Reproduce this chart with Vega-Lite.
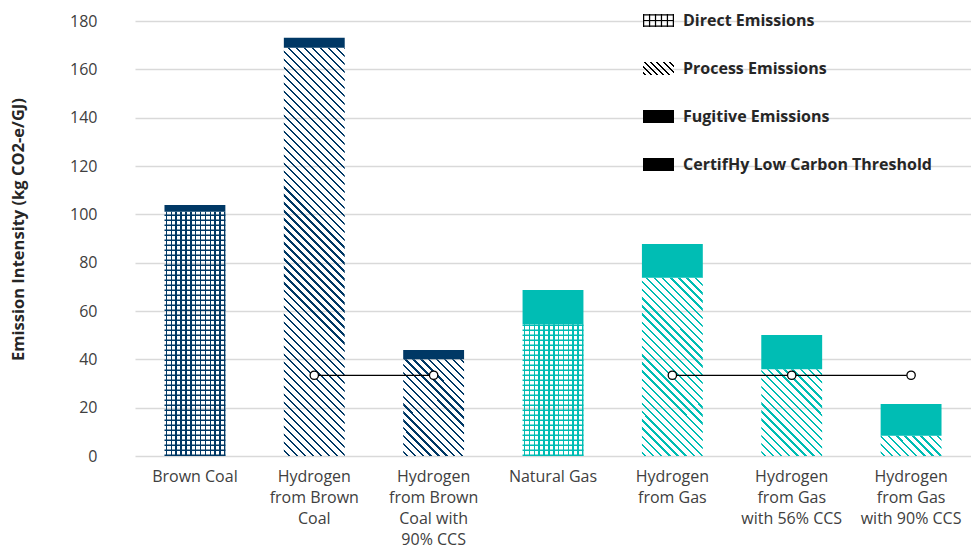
{
"$schema":"https://vega.github.io/schema/vega-lite/v6.json",
"width":836,"height":435,
"autosize":{"type":"none"},
"padding":{"left":135,"top":21,"right":0,"bottom":93},
"background":"white",
"config":{"view":{"stroke":null},"font":"Open Sans",
"axis":{"labelFont":"Open Sans","titleFont":"Open Sans","labelColor":"#404040","labelFontSize":16,"domain":false,"ticks":false},
"axisY":{"grid":true,"gridColor":"#d9d9d9","gridWidth":1.5,"labelPadding":38,"titleFontSize":16.5,"titleFontWeight":"bold","titleColor":"#262626","titleX":-117,"titleY":208,"titleAngle":-90,"titleBaseline":"middle","titleAlign":"center"},
"axisX":{"grid":false,"labelPadding":12,"labelLineHeight":21,"labelAngle":0}},
"datasets":{
"emissions":[
{"category":"Brown Coal","component":"Direct Emissions","fuel":"coal","order":1,"value":101.1},
{"category":"Brown Coal","component":"Fugitive Emissions","fuel":"coal","order":2,"value":2.8},
{"category":"Hydrogen from Brown Coal","component":"Process Emissions","fuel":"coal","order":1,"value":168.9},
{"category":"Hydrogen from Brown Coal","component":"Fugitive Emissions","fuel":"coal","order":2,"value":4.2},
{"category":"Hydrogen from Brown Coal with 90% CCS","component":"Process Emissions","fuel":"coal","order":1,"value":40.0},
{"category":"Hydrogen from Brown Coal with 90% CCS","component":"Fugitive Emissions","fuel":"coal","order":2,"value":3.9},
{"category":"Natural Gas","component":"Direct Emissions","fuel":"gas","order":1,"value":54.5},
{"category":"Natural Gas","component":"Fugitive Emissions","fuel":"gas","order":2,"value":14.2},
{"category":"Hydrogen from Gas","component":"Process Emissions","fuel":"gas","order":1,"value":73.8},
{"category":"Hydrogen from Gas","component":"Fugitive Emissions","fuel":"gas","order":2,"value":13.9},
{"category":"Hydrogen from Gas with 56% CCS","component":"Process Emissions","fuel":"gas","order":1,"value":35.9},
{"category":"Hydrogen from Gas with 56% CCS","component":"Fugitive Emissions","fuel":"gas","order":2,"value":14.2},
{"category":"Hydrogen from Gas with 90% CCS","component":"Process Emissions","fuel":"gas","order":1,"value":8.4},
{"category":"Hydrogen from Gas with 90% CCS","component":"Fugitive Emissions","fuel":"gas","order":2,"value":13.1}
],
"threshold":[
{"category":"Hydrogen from Brown Coal","grp":"coal","threshold":33.4},
{"category":"Hydrogen from Brown Coal with 90% CCS","grp":"coal","threshold":33.4},
{"category":"Hydrogen from Gas","grp":"gas","threshold":33.4},
{"category":"Hydrogen from Gas with 56% CCS","grp":"gas","threshold":33.4},
{"category":"Hydrogen from Gas with 90% CCS","grp":"gas","threshold":33.4}
]},
"encoding":{"x":{"field":"category","type":"nominal","title":null,
"scale":{"domain":["Brown Coal","Hydrogen from Brown Coal","Hydrogen from Brown Coal with 90% CCS","Natural Gas","Hydrogen from Gas","Hydrogen from Gas with 56% CCS","Hydrogen from Gas with 90% CCS"],"paddingInner":0.49,"paddingOuter":0.247},
"axis":{"labelExpr":"datum.label === 'Hydrogen from Brown Coal' ? ['Hydrogen','from Brown','Coal'] : datum.label === 'Hydrogen from Brown Coal with 90% CCS' ? ['Hydrogen','from Brown','Coal with','90% CCS'] : datum.label === 'Hydrogen from Gas' ? ['Hydrogen','from Gas'] : datum.label === 'Hydrogen from Gas with 56% CCS' ? ['Hydrogen','from Gas','with 56% CCS'] : datum.label === 'Hydrogen from Gas with 90% CCS' ? ['Hydrogen','from Gas','with 90% CCS'] : datum.label"}}},
"layer":[
{"data":{"name":"emissions"},
"transform":[{"stack":"value","groupby":["category"],"sort":[{"field":"order"}],"as":["v0","v1"]}],
"layer":[
{"transform":[{"filter":"datum.component === 'Direct Emissions'"}],
"mark":{"type":"bar"},
"encoding":{
"y":{"field":"v1","type":"quantitative","title":"Emission Intensity (kg CO2-e/GJ)","scale":{"domain":[0,180],"nice":false},"axis":{"values":[0,20,40,60,80,100,120,140,160,180]}},
"y2":{"field":"v0"},
"color":{"condition":{"test":"datum.fuel === 'coal'","value":{"gradient":"linear","x1":0,"y1":0,"x2":1,"y2":0,"stops":[
{"offset":0.02,"color":"rgba(0,0,0,0)"},{"offset":0.02,"color":"#003865"},{"offset":0.045,"color":"#003865"},{"offset":0.045,"color":"rgba(0,0,0,0)"},
{"offset":0.1,"color":"rgba(0,0,0,0)"},{"offset":0.1,"color":"#003865"},{"offset":0.125,"color":"#003865"},{"offset":0.125,"color":"rgba(0,0,0,0)"},
{"offset":0.18,"color":"rgba(0,0,0,0)"},{"offset":0.18,"color":"#003865"},{"offset":0.205,"color":"#003865"},{"offset":0.205,"color":"rgba(0,0,0,0)"},
{"offset":0.26,"color":"rgba(0,0,0,0)"},{"offset":0.26,"color":"#003865"},{"offset":0.285,"color":"#003865"},{"offset":0.285,"color":"rgba(0,0,0,0)"},
{"offset":0.34,"color":"rgba(0,0,0,0)"},{"offset":0.34,"color":"#003865"},{"offset":0.365,"color":"#003865"},{"offset":0.365,"color":"rgba(0,0,0,0)"},
{"offset":0.42,"color":"rgba(0,0,0,0)"},{"offset":0.42,"color":"#003865"},{"offset":0.445,"color":"#003865"},{"offset":0.445,"color":"rgba(0,0,0,0)"},
{"offset":0.5,"color":"rgba(0,0,0,0)"},{"offset":0.5,"color":"#003865"},{"offset":0.525,"color":"#003865"},{"offset":0.525,"color":"rgba(0,0,0,0)"},
{"offset":0.58,"color":"rgba(0,0,0,0)"},{"offset":0.58,"color":"#003865"},{"offset":0.605,"color":"#003865"},{"offset":0.605,"color":"rgba(0,0,0,0)"},
{"offset":0.66,"color":"rgba(0,0,0,0)"},{"offset":0.66,"color":"#003865"},{"offset":0.685,"color":"#003865"},{"offset":0.685,"color":"rgba(0,0,0,0)"},
{"offset":0.74,"color":"rgba(0,0,0,0)"},{"offset":0.74,"color":"#003865"},{"offset":0.765,"color":"#003865"},{"offset":0.765,"color":"rgba(0,0,0,0)"},
{"offset":0.82,"color":"rgba(0,0,0,0)"},{"offset":0.82,"color":"#003865"},{"offset":0.845,"color":"#003865"},{"offset":0.845,"color":"rgba(0,0,0,0)"},
{"offset":0.9,"color":"rgba(0,0,0,0)"},{"offset":0.9,"color":"#003865"},{"offset":0.925,"color":"#003865"},{"offset":0.925,"color":"rgba(0,0,0,0)"},
{"offset":0.98,"color":"rgba(0,0,0,0)"},{"offset":0.98,"color":"#003865"},{"offset":1,"color":"#003865"}]}},
"value":{"gradient":"linear","x1":0,"y1":0,"x2":1,"y2":0,"stops":[
{"offset":0.02,"color":"rgba(0,0,0,0)"},{"offset":0.02,"color":"#00bdb4"},{"offset":0.045,"color":"#00bdb4"},{"offset":0.045,"color":"rgba(0,0,0,0)"},
{"offset":0.1,"color":"rgba(0,0,0,0)"},{"offset":0.1,"color":"#00bdb4"},{"offset":0.125,"color":"#00bdb4"},{"offset":0.125,"color":"rgba(0,0,0,0)"},
{"offset":0.18,"color":"rgba(0,0,0,0)"},{"offset":0.18,"color":"#00bdb4"},{"offset":0.205,"color":"#00bdb4"},{"offset":0.205,"color":"rgba(0,0,0,0)"},
{"offset":0.26,"color":"rgba(0,0,0,0)"},{"offset":0.26,"color":"#00bdb4"},{"offset":0.285,"color":"#00bdb4"},{"offset":0.285,"color":"rgba(0,0,0,0)"},
{"offset":0.34,"color":"rgba(0,0,0,0)"},{"offset":0.34,"color":"#00bdb4"},{"offset":0.365,"color":"#00bdb4"},{"offset":0.365,"color":"rgba(0,0,0,0)"},
{"offset":0.42,"color":"rgba(0,0,0,0)"},{"offset":0.42,"color":"#00bdb4"},{"offset":0.445,"color":"#00bdb4"},{"offset":0.445,"color":"rgba(0,0,0,0)"},
{"offset":0.5,"color":"rgba(0,0,0,0)"},{"offset":0.5,"color":"#00bdb4"},{"offset":0.525,"color":"#00bdb4"},{"offset":0.525,"color":"rgba(0,0,0,0)"},
{"offset":0.58,"color":"rgba(0,0,0,0)"},{"offset":0.58,"color":"#00bdb4"},{"offset":0.605,"color":"#00bdb4"},{"offset":0.605,"color":"rgba(0,0,0,0)"},
{"offset":0.66,"color":"rgba(0,0,0,0)"},{"offset":0.66,"color":"#00bdb4"},{"offset":0.685,"color":"#00bdb4"},{"offset":0.685,"color":"rgba(0,0,0,0)"},
{"offset":0.74,"color":"rgba(0,0,0,0)"},{"offset":0.74,"color":"#00bdb4"},{"offset":0.765,"color":"#00bdb4"},{"offset":0.765,"color":"rgba(0,0,0,0)"},
{"offset":0.82,"color":"rgba(0,0,0,0)"},{"offset":0.82,"color":"#00bdb4"},{"offset":0.845,"color":"#00bdb4"},{"offset":0.845,"color":"rgba(0,0,0,0)"},
{"offset":0.9,"color":"rgba(0,0,0,0)"},{"offset":0.9,"color":"#00bdb4"},{"offset":0.925,"color":"#00bdb4"},{"offset":0.925,"color":"rgba(0,0,0,0)"},
{"offset":0.98,"color":"rgba(0,0,0,0)"},{"offset":0.98,"color":"#00bdb4"},{"offset":1,"color":"#00bdb4"}]}}}},
{"transform":[{"filter":"datum.component === 'Direct Emissions'"}],
"mark":{"type":"rule","strokeWidth":60.9,"strokeDash":[1.6,3.4]},
"encoding":{
"y":{"field":"v0","type":"quantitative","title":"Emission Intensity (kg CO2-e/GJ)","scale":{"domain":[0,180],"nice":false}},
"y2":{"field":"v1"},
"color":{"field":"fuel","type":"nominal","scale":{"domain":["coal","gas"],"range":["#003865","#00bdb4"]},"legend":null}}},
{"transform":[{"filter":"datum.component === 'Process Emissions'"}],
"mark":{"type":"bar"},
"encoding":{
"y":{"field":"v1","type":"quantitative","title":"Emission Intensity (kg CO2-e/GJ)","scale":{"domain":[0,180],"nice":false}},
"y2":{"field":"v0"},
"color":{"condition":[
{"test":"datum.category === 'Hydrogen from Brown Coal'","value":{"gradient":"linear","x1":0,"y1":1,"x2":0.1676,"y2":-0.1241,"stops":[
{"offset":0.01,"color":"rgba(0,0,0,0)"},{"offset":0.01,"color":"#003865"},{"offset":0.015,"color":"#003865"},{"offset":0.015,"color":"rgba(0,0,0,0)"},
{"offset":0.027,"color":"rgba(0,0,0,0)"},{"offset":0.027,"color":"#003865"},{"offset":0.032,"color":"#003865"},{"offset":0.032,"color":"rgba(0,0,0,0)"},
{"offset":0.044,"color":"rgba(0,0,0,0)"},{"offset":0.044,"color":"#003865"},{"offset":0.049,"color":"#003865"},{"offset":0.049,"color":"rgba(0,0,0,0)"},
{"offset":0.061,"color":"rgba(0,0,0,0)"},{"offset":0.061,"color":"#003865"},{"offset":0.066,"color":"#003865"},{"offset":0.066,"color":"rgba(0,0,0,0)"},
{"offset":0.078,"color":"rgba(0,0,0,0)"},{"offset":0.078,"color":"#003865"},{"offset":0.083,"color":"#003865"},{"offset":0.083,"color":"rgba(0,0,0,0)"},
{"offset":0.095,"color":"rgba(0,0,0,0)"},{"offset":0.095,"color":"#003865"},{"offset":0.1,"color":"#003865"},{"offset":0.1,"color":"rgba(0,0,0,0)"},
{"offset":0.112,"color":"rgba(0,0,0,0)"},{"offset":0.112,"color":"#003865"},{"offset":0.117,"color":"#003865"},{"offset":0.117,"color":"rgba(0,0,0,0)"},
{"offset":0.129,"color":"rgba(0,0,0,0)"},{"offset":0.129,"color":"#003865"},{"offset":0.134,"color":"#003865"},{"offset":0.134,"color":"rgba(0,0,0,0)"},
{"offset":0.146,"color":"rgba(0,0,0,0)"},{"offset":0.146,"color":"#003865"},{"offset":0.151,"color":"#003865"},{"offset":0.151,"color":"rgba(0,0,0,0)"},
{"offset":0.163,"color":"rgba(0,0,0,0)"},{"offset":0.163,"color":"#003865"},{"offset":0.168,"color":"#003865"},{"offset":0.168,"color":"rgba(0,0,0,0)"},
{"offset":0.18,"color":"rgba(0,0,0,0)"},{"offset":0.18,"color":"#003865"},{"offset":0.185,"color":"#003865"},{"offset":0.185,"color":"rgba(0,0,0,0)"},
{"offset":0.197,"color":"rgba(0,0,0,0)"},{"offset":0.197,"color":"#003865"},{"offset":0.202,"color":"#003865"},{"offset":0.202,"color":"rgba(0,0,0,0)"},
{"offset":0.214,"color":"rgba(0,0,0,0)"},{"offset":0.214,"color":"#003865"},{"offset":0.219,"color":"#003865"},{"offset":0.219,"color":"rgba(0,0,0,0)"},
{"offset":0.231,"color":"rgba(0,0,0,0)"},{"offset":0.231,"color":"#003865"},{"offset":0.236,"color":"#003865"},{"offset":0.236,"color":"rgba(0,0,0,0)"},
{"offset":0.248,"color":"rgba(0,0,0,0)"},{"offset":0.248,"color":"#003865"},{"offset":0.253,"color":"#003865"},{"offset":0.253,"color":"rgba(0,0,0,0)"},
{"offset":0.265,"color":"rgba(0,0,0,0)"},{"offset":0.265,"color":"#003865"},{"offset":0.27,"color":"#003865"},{"offset":0.27,"color":"rgba(0,0,0,0)"},
{"offset":0.282,"color":"rgba(0,0,0,0)"},{"offset":0.282,"color":"#003865"},{"offset":0.287,"color":"#003865"},{"offset":0.287,"color":"rgba(0,0,0,0)"},
{"offset":0.299,"color":"rgba(0,0,0,0)"},{"offset":0.299,"color":"#003865"},{"offset":0.304,"color":"#003865"},{"offset":0.304,"color":"rgba(0,0,0,0)"},
{"offset":0.316,"color":"rgba(0,0,0,0)"},{"offset":0.316,"color":"#003865"},{"offset":0.321,"color":"#003865"},{"offset":0.321,"color":"rgba(0,0,0,0)"},
{"offset":0.333,"color":"rgba(0,0,0,0)"},{"offset":0.333,"color":"#003865"},{"offset":0.338,"color":"#003865"},{"offset":0.338,"color":"rgba(0,0,0,0)"},
{"offset":0.35,"color":"rgba(0,0,0,0)"},{"offset":0.35,"color":"#003865"},{"offset":0.355,"color":"#003865"},{"offset":0.355,"color":"rgba(0,0,0,0)"},
{"offset":0.367,"color":"rgba(0,0,0,0)"},{"offset":0.367,"color":"#003865"},{"offset":0.372,"color":"#003865"},{"offset":0.372,"color":"rgba(0,0,0,0)"},
{"offset":0.384,"color":"rgba(0,0,0,0)"},{"offset":0.384,"color":"#003865"},{"offset":0.389,"color":"#003865"},{"offset":0.389,"color":"rgba(0,0,0,0)"},
{"offset":0.401,"color":"rgba(0,0,0,0)"},{"offset":0.401,"color":"#003865"},{"offset":0.406,"color":"#003865"},{"offset":0.406,"color":"rgba(0,0,0,0)"},
{"offset":0.418,"color":"rgba(0,0,0,0)"},{"offset":0.418,"color":"#003865"},{"offset":0.423,"color":"#003865"},{"offset":0.423,"color":"rgba(0,0,0,0)"},
{"offset":0.435,"color":"rgba(0,0,0,0)"},{"offset":0.435,"color":"#003865"},{"offset":0.44,"color":"#003865"},{"offset":0.44,"color":"rgba(0,0,0,0)"},
{"offset":0.452,"color":"rgba(0,0,0,0)"},{"offset":0.452,"color":"#003865"},{"offset":0.457,"color":"#003865"},{"offset":0.457,"color":"rgba(0,0,0,0)"},
{"offset":0.469,"color":"rgba(0,0,0,0)"},{"offset":0.469,"color":"#003865"},{"offset":0.474,"color":"#003865"},{"offset":0.474,"color":"rgba(0,0,0,0)"},
{"offset":0.486,"color":"rgba(0,0,0,0)"},{"offset":0.486,"color":"#003865"},{"offset":0.491,"color":"#003865"},{"offset":0.491,"color":"rgba(0,0,0,0)"},
{"offset":0.503,"color":"rgba(0,0,0,0)"},{"offset":0.503,"color":"#003865"},{"offset":0.508,"color":"#003865"},{"offset":0.508,"color":"rgba(0,0,0,0)"},
{"offset":0.52,"color":"rgba(0,0,0,0)"},{"offset":0.52,"color":"#003865"},{"offset":0.525,"color":"#003865"},{"offset":0.525,"color":"rgba(0,0,0,0)"},
{"offset":0.537,"color":"rgba(0,0,0,0)"},{"offset":0.537,"color":"#003865"},{"offset":0.542,"color":"#003865"},{"offset":0.542,"color":"rgba(0,0,0,0)"},
{"offset":0.554,"color":"rgba(0,0,0,0)"},{"offset":0.554,"color":"#003865"},{"offset":0.559,"color":"#003865"},{"offset":0.559,"color":"rgba(0,0,0,0)"},
{"offset":0.571,"color":"rgba(0,0,0,0)"},{"offset":0.571,"color":"#003865"},{"offset":0.576,"color":"#003865"},{"offset":0.576,"color":"rgba(0,0,0,0)"},
{"offset":0.588,"color":"rgba(0,0,0,0)"},{"offset":0.588,"color":"#003865"},{"offset":0.593,"color":"#003865"},{"offset":0.593,"color":"rgba(0,0,0,0)"},
{"offset":0.605,"color":"rgba(0,0,0,0)"},{"offset":0.605,"color":"#003865"},{"offset":0.61,"color":"#003865"},{"offset":0.61,"color":"rgba(0,0,0,0)"},
{"offset":0.622,"color":"rgba(0,0,0,0)"},{"offset":0.622,"color":"#003865"},{"offset":0.627,"color":"#003865"},{"offset":0.627,"color":"rgba(0,0,0,0)"},
{"offset":0.639,"color":"rgba(0,0,0,0)"},{"offset":0.639,"color":"#003865"},{"offset":0.644,"color":"#003865"},{"offset":0.644,"color":"rgba(0,0,0,0)"},
{"offset":0.656,"color":"rgba(0,0,0,0)"},{"offset":0.656,"color":"#003865"},{"offset":0.661,"color":"#003865"},{"offset":0.661,"color":"rgba(0,0,0,0)"},
{"offset":0.673,"color":"rgba(0,0,0,0)"},{"offset":0.673,"color":"#003865"},{"offset":0.678,"color":"#003865"},{"offset":0.678,"color":"rgba(0,0,0,0)"},
{"offset":0.69,"color":"rgba(0,0,0,0)"},{"offset":0.69,"color":"#003865"},{"offset":0.695,"color":"#003865"},{"offset":0.695,"color":"rgba(0,0,0,0)"},
{"offset":0.707,"color":"rgba(0,0,0,0)"},{"offset":0.707,"color":"#003865"},{"offset":0.712,"color":"#003865"},{"offset":0.712,"color":"rgba(0,0,0,0)"},
{"offset":0.724,"color":"rgba(0,0,0,0)"},{"offset":0.724,"color":"#003865"},{"offset":0.729,"color":"#003865"},{"offset":0.729,"color":"rgba(0,0,0,0)"},
{"offset":0.741,"color":"rgba(0,0,0,0)"},{"offset":0.741,"color":"#003865"},{"offset":0.746,"color":"#003865"},{"offset":0.746,"color":"rgba(0,0,0,0)"},
{"offset":0.758,"color":"rgba(0,0,0,0)"},{"offset":0.758,"color":"#003865"},{"offset":0.763,"color":"#003865"},{"offset":0.763,"color":"rgba(0,0,0,0)"},
{"offset":0.775,"color":"rgba(0,0,0,0)"},{"offset":0.775,"color":"#003865"},{"offset":0.78,"color":"#003865"},{"offset":0.78,"color":"rgba(0,0,0,0)"},
{"offset":0.792,"color":"rgba(0,0,0,0)"},{"offset":0.792,"color":"#003865"},{"offset":0.797,"color":"#003865"},{"offset":0.797,"color":"rgba(0,0,0,0)"},
{"offset":0.809,"color":"rgba(0,0,0,0)"},{"offset":0.809,"color":"#003865"},{"offset":0.814,"color":"#003865"},{"offset":0.814,"color":"rgba(0,0,0,0)"},
{"offset":0.826,"color":"rgba(0,0,0,0)"},{"offset":0.826,"color":"#003865"},{"offset":0.831,"color":"#003865"},{"offset":0.831,"color":"rgba(0,0,0,0)"},
{"offset":0.843,"color":"rgba(0,0,0,0)"},{"offset":0.843,"color":"#003865"},{"offset":0.848,"color":"#003865"},{"offset":0.848,"color":"rgba(0,0,0,0)"},
{"offset":0.86,"color":"rgba(0,0,0,0)"},{"offset":0.86,"color":"#003865"},{"offset":0.865,"color":"#003865"},{"offset":0.865,"color":"rgba(0,0,0,0)"},
{"offset":0.877,"color":"rgba(0,0,0,0)"},{"offset":0.877,"color":"#003865"},{"offset":0.882,"color":"#003865"},{"offset":0.882,"color":"rgba(0,0,0,0)"},
{"offset":0.894,"color":"rgba(0,0,0,0)"},{"offset":0.894,"color":"#003865"},{"offset":0.899,"color":"#003865"},{"offset":0.899,"color":"rgba(0,0,0,0)"},
{"offset":0.911,"color":"rgba(0,0,0,0)"},{"offset":0.911,"color":"#003865"},{"offset":0.916,"color":"#003865"},{"offset":0.916,"color":"rgba(0,0,0,0)"},
{"offset":0.928,"color":"rgba(0,0,0,0)"},{"offset":0.928,"color":"#003865"},{"offset":0.933,"color":"#003865"},{"offset":0.933,"color":"rgba(0,0,0,0)"},
{"offset":0.945,"color":"rgba(0,0,0,0)"},{"offset":0.945,"color":"#003865"},{"offset":0.95,"color":"#003865"},{"offset":0.95,"color":"rgba(0,0,0,0)"},
{"offset":0.962,"color":"rgba(0,0,0,0)"},{"offset":0.962,"color":"#003865"},{"offset":0.967,"color":"#003865"},{"offset":0.967,"color":"rgba(0,0,0,0)"},
{"offset":0.979,"color":"rgba(0,0,0,0)"},{"offset":0.979,"color":"#003865"},{"offset":0.984,"color":"#003865"},{"offset":0.984,"color":"rgba(0,0,0,0)"},
{"offset":0.996,"color":"rgba(0,0,0,0)"},{"offset":0.996,"color":"#003865"},{"offset":1,"color":"#003865"}]}},
{"test":"datum.category === 'Hydrogen from Brown Coal with 90% CCS'","value":{"gradient":"linear","x1":0,"y1":1,"x2":0.7361,"y2":-0.1665,"stops":[
{"offset":0.02,"color":"rgba(0,0,0,0)"},{"offset":0.02,"color":"#003865"},{"offset":0.035,"color":"#003865"},{"offset":0.035,"color":"rgba(0,0,0,0)"},
{"offset":0.07,"color":"rgba(0,0,0,0)"},{"offset":0.07,"color":"#003865"},{"offset":0.085,"color":"#003865"},{"offset":0.085,"color":"rgba(0,0,0,0)"},
{"offset":0.12,"color":"rgba(0,0,0,0)"},{"offset":0.12,"color":"#003865"},{"offset":0.135,"color":"#003865"},{"offset":0.135,"color":"rgba(0,0,0,0)"},
{"offset":0.17,"color":"rgba(0,0,0,0)"},{"offset":0.17,"color":"#003865"},{"offset":0.185,"color":"#003865"},{"offset":0.185,"color":"rgba(0,0,0,0)"},
{"offset":0.22,"color":"rgba(0,0,0,0)"},{"offset":0.22,"color":"#003865"},{"offset":0.235,"color":"#003865"},{"offset":0.235,"color":"rgba(0,0,0,0)"},
{"offset":0.27,"color":"rgba(0,0,0,0)"},{"offset":0.27,"color":"#003865"},{"offset":0.285,"color":"#003865"},{"offset":0.285,"color":"rgba(0,0,0,0)"},
{"offset":0.32,"color":"rgba(0,0,0,0)"},{"offset":0.32,"color":"#003865"},{"offset":0.335,"color":"#003865"},{"offset":0.335,"color":"rgba(0,0,0,0)"},
{"offset":0.37,"color":"rgba(0,0,0,0)"},{"offset":0.37,"color":"#003865"},{"offset":0.385,"color":"#003865"},{"offset":0.385,"color":"rgba(0,0,0,0)"},
{"offset":0.42,"color":"rgba(0,0,0,0)"},{"offset":0.42,"color":"#003865"},{"offset":0.435,"color":"#003865"},{"offset":0.435,"color":"rgba(0,0,0,0)"},
{"offset":0.47,"color":"rgba(0,0,0,0)"},{"offset":0.47,"color":"#003865"},{"offset":0.485,"color":"#003865"},{"offset":0.485,"color":"rgba(0,0,0,0)"},
{"offset":0.52,"color":"rgba(0,0,0,0)"},{"offset":0.52,"color":"#003865"},{"offset":0.535,"color":"#003865"},{"offset":0.535,"color":"rgba(0,0,0,0)"},
{"offset":0.57,"color":"rgba(0,0,0,0)"},{"offset":0.57,"color":"#003865"},{"offset":0.585,"color":"#003865"},{"offset":0.585,"color":"rgba(0,0,0,0)"},
{"offset":0.62,"color":"rgba(0,0,0,0)"},{"offset":0.62,"color":"#003865"},{"offset":0.635,"color":"#003865"},{"offset":0.635,"color":"rgba(0,0,0,0)"},
{"offset":0.67,"color":"rgba(0,0,0,0)"},{"offset":0.67,"color":"#003865"},{"offset":0.685,"color":"#003865"},{"offset":0.685,"color":"rgba(0,0,0,0)"},
{"offset":0.72,"color":"rgba(0,0,0,0)"},{"offset":0.72,"color":"#003865"},{"offset":0.735,"color":"#003865"},{"offset":0.735,"color":"rgba(0,0,0,0)"},
{"offset":0.77,"color":"rgba(0,0,0,0)"},{"offset":0.77,"color":"#003865"},{"offset":0.785,"color":"#003865"},{"offset":0.785,"color":"rgba(0,0,0,0)"},
{"offset":0.82,"color":"rgba(0,0,0,0)"},{"offset":0.82,"color":"#003865"},{"offset":0.835,"color":"#003865"},{"offset":0.835,"color":"rgba(0,0,0,0)"},
{"offset":0.87,"color":"rgba(0,0,0,0)"},{"offset":0.87,"color":"#003865"},{"offset":0.885,"color":"#003865"},{"offset":0.885,"color":"rgba(0,0,0,0)"},
{"offset":0.92,"color":"rgba(0,0,0,0)"},{"offset":0.92,"color":"#003865"},{"offset":0.935,"color":"#003865"},{"offset":0.935,"color":"rgba(0,0,0,0)"},
{"offset":0.97,"color":"rgba(0,0,0,0)"},{"offset":0.97,"color":"#003865"},{"offset":0.985,"color":"#003865"},{"offset":0.985,"color":"rgba(0,0,0,0)"}]}},
{"test":"datum.category === 'Hydrogen from Gas'","value":{"gradient":"linear","x1":0,"y1":1,"x2":0.4109,"y2":-0.2015,"stops":[
{"offset":0.01,"color":"rgba(0,0,0,0)"},{"offset":0.01,"color":"#00bdb4"},{"offset":0.02,"color":"#00bdb4"},{"offset":0.02,"color":"rgba(0,0,0,0)"},
{"offset":0.044,"color":"rgba(0,0,0,0)"},{"offset":0.044,"color":"#00bdb4"},{"offset":0.054,"color":"#00bdb4"},{"offset":0.054,"color":"rgba(0,0,0,0)"},
{"offset":0.078,"color":"rgba(0,0,0,0)"},{"offset":0.078,"color":"#00bdb4"},{"offset":0.088,"color":"#00bdb4"},{"offset":0.088,"color":"rgba(0,0,0,0)"},
{"offset":0.112,"color":"rgba(0,0,0,0)"},{"offset":0.112,"color":"#00bdb4"},{"offset":0.122,"color":"#00bdb4"},{"offset":0.122,"color":"rgba(0,0,0,0)"},
{"offset":0.146,"color":"rgba(0,0,0,0)"},{"offset":0.146,"color":"#00bdb4"},{"offset":0.156,"color":"#00bdb4"},{"offset":0.156,"color":"rgba(0,0,0,0)"},
{"offset":0.18,"color":"rgba(0,0,0,0)"},{"offset":0.18,"color":"#00bdb4"},{"offset":0.19,"color":"#00bdb4"},{"offset":0.19,"color":"rgba(0,0,0,0)"},
{"offset":0.214,"color":"rgba(0,0,0,0)"},{"offset":0.214,"color":"#00bdb4"},{"offset":0.224,"color":"#00bdb4"},{"offset":0.224,"color":"rgba(0,0,0,0)"},
{"offset":0.248,"color":"rgba(0,0,0,0)"},{"offset":0.248,"color":"#00bdb4"},{"offset":0.258,"color":"#00bdb4"},{"offset":0.258,"color":"rgba(0,0,0,0)"},
{"offset":0.282,"color":"rgba(0,0,0,0)"},{"offset":0.282,"color":"#00bdb4"},{"offset":0.292,"color":"#00bdb4"},{"offset":0.292,"color":"rgba(0,0,0,0)"},
{"offset":0.316,"color":"rgba(0,0,0,0)"},{"offset":0.316,"color":"#00bdb4"},{"offset":0.326,"color":"#00bdb4"},{"offset":0.326,"color":"rgba(0,0,0,0)"},
{"offset":0.35,"color":"rgba(0,0,0,0)"},{"offset":0.35,"color":"#00bdb4"},{"offset":0.36,"color":"#00bdb4"},{"offset":0.36,"color":"rgba(0,0,0,0)"},
{"offset":0.384,"color":"rgba(0,0,0,0)"},{"offset":0.384,"color":"#00bdb4"},{"offset":0.394,"color":"#00bdb4"},{"offset":0.394,"color":"rgba(0,0,0,0)"},
{"offset":0.418,"color":"rgba(0,0,0,0)"},{"offset":0.418,"color":"#00bdb4"},{"offset":0.428,"color":"#00bdb4"},{"offset":0.428,"color":"rgba(0,0,0,0)"},
{"offset":0.452,"color":"rgba(0,0,0,0)"},{"offset":0.452,"color":"#00bdb4"},{"offset":0.462,"color":"#00bdb4"},{"offset":0.462,"color":"rgba(0,0,0,0)"},
{"offset":0.486,"color":"rgba(0,0,0,0)"},{"offset":0.486,"color":"#00bdb4"},{"offset":0.496,"color":"#00bdb4"},{"offset":0.496,"color":"rgba(0,0,0,0)"},
{"offset":0.52,"color":"rgba(0,0,0,0)"},{"offset":0.52,"color":"#00bdb4"},{"offset":0.53,"color":"#00bdb4"},{"offset":0.53,"color":"rgba(0,0,0,0)"},
{"offset":0.554,"color":"rgba(0,0,0,0)"},{"offset":0.554,"color":"#00bdb4"},{"offset":0.564,"color":"#00bdb4"},{"offset":0.564,"color":"rgba(0,0,0,0)"},
{"offset":0.588,"color":"rgba(0,0,0,0)"},{"offset":0.588,"color":"#00bdb4"},{"offset":0.598,"color":"#00bdb4"},{"offset":0.598,"color":"rgba(0,0,0,0)"},
{"offset":0.622,"color":"rgba(0,0,0,0)"},{"offset":0.622,"color":"#00bdb4"},{"offset":0.632,"color":"#00bdb4"},{"offset":0.632,"color":"rgba(0,0,0,0)"},
{"offset":0.656,"color":"rgba(0,0,0,0)"},{"offset":0.656,"color":"#00bdb4"},{"offset":0.666,"color":"#00bdb4"},{"offset":0.666,"color":"rgba(0,0,0,0)"},
{"offset":0.69,"color":"rgba(0,0,0,0)"},{"offset":0.69,"color":"#00bdb4"},{"offset":0.7,"color":"#00bdb4"},{"offset":0.7,"color":"rgba(0,0,0,0)"},
{"offset":0.724,"color":"rgba(0,0,0,0)"},{"offset":0.724,"color":"#00bdb4"},{"offset":0.734,"color":"#00bdb4"},{"offset":0.734,"color":"rgba(0,0,0,0)"},
{"offset":0.758,"color":"rgba(0,0,0,0)"},{"offset":0.758,"color":"#00bdb4"},{"offset":0.768,"color":"#00bdb4"},{"offset":0.768,"color":"rgba(0,0,0,0)"},
{"offset":0.792,"color":"rgba(0,0,0,0)"},{"offset":0.792,"color":"#00bdb4"},{"offset":0.802,"color":"#00bdb4"},{"offset":0.802,"color":"rgba(0,0,0,0)"},
{"offset":0.826,"color":"rgba(0,0,0,0)"},{"offset":0.826,"color":"#00bdb4"},{"offset":0.836,"color":"#00bdb4"},{"offset":0.836,"color":"rgba(0,0,0,0)"},
{"offset":0.86,"color":"rgba(0,0,0,0)"},{"offset":0.86,"color":"#00bdb4"},{"offset":0.87,"color":"#00bdb4"},{"offset":0.87,"color":"rgba(0,0,0,0)"},
{"offset":0.894,"color":"rgba(0,0,0,0)"},{"offset":0.894,"color":"#00bdb4"},{"offset":0.904,"color":"#00bdb4"},{"offset":0.904,"color":"rgba(0,0,0,0)"},
{"offset":0.928,"color":"rgba(0,0,0,0)"},{"offset":0.928,"color":"#00bdb4"},{"offset":0.938,"color":"#00bdb4"},{"offset":0.938,"color":"rgba(0,0,0,0)"},
{"offset":0.962,"color":"rgba(0,0,0,0)"},{"offset":0.962,"color":"#00bdb4"},{"offset":0.972,"color":"#00bdb4"},{"offset":0.972,"color":"rgba(0,0,0,0)"},
{"offset":0.996,"color":"rgba(0,0,0,0)"},{"offset":0.996,"color":"#00bdb4"},{"offset":1,"color":"#00bdb4"}]}},
{"test":"datum.category === 'Hydrogen from Gas with 56% CCS'","value":{"gradient":"linear","x1":0,"y1":1,"x2":0.8013,"y2":-0.1397,"stops":[
{"offset":0.02,"color":"rgba(0,0,0,0)"},{"offset":0.02,"color":"#00bdb4"},{"offset":0.036,"color":"#00bdb4"},{"offset":0.036,"color":"rgba(0,0,0,0)"},
{"offset":0.075,"color":"rgba(0,0,0,0)"},{"offset":0.075,"color":"#00bdb4"},{"offset":0.091,"color":"#00bdb4"},{"offset":0.091,"color":"rgba(0,0,0,0)"},
{"offset":0.13,"color":"rgba(0,0,0,0)"},{"offset":0.13,"color":"#00bdb4"},{"offset":0.146,"color":"#00bdb4"},{"offset":0.146,"color":"rgba(0,0,0,0)"},
{"offset":0.185,"color":"rgba(0,0,0,0)"},{"offset":0.185,"color":"#00bdb4"},{"offset":0.201,"color":"#00bdb4"},{"offset":0.201,"color":"rgba(0,0,0,0)"},
{"offset":0.24,"color":"rgba(0,0,0,0)"},{"offset":0.24,"color":"#00bdb4"},{"offset":0.256,"color":"#00bdb4"},{"offset":0.256,"color":"rgba(0,0,0,0)"},
{"offset":0.295,"color":"rgba(0,0,0,0)"},{"offset":0.295,"color":"#00bdb4"},{"offset":0.311,"color":"#00bdb4"},{"offset":0.311,"color":"rgba(0,0,0,0)"},
{"offset":0.35,"color":"rgba(0,0,0,0)"},{"offset":0.35,"color":"#00bdb4"},{"offset":0.366,"color":"#00bdb4"},{"offset":0.366,"color":"rgba(0,0,0,0)"},
{"offset":0.405,"color":"rgba(0,0,0,0)"},{"offset":0.405,"color":"#00bdb4"},{"offset":0.421,"color":"#00bdb4"},{"offset":0.421,"color":"rgba(0,0,0,0)"},
{"offset":0.46,"color":"rgba(0,0,0,0)"},{"offset":0.46,"color":"#00bdb4"},{"offset":0.476,"color":"#00bdb4"},{"offset":0.476,"color":"rgba(0,0,0,0)"},
{"offset":0.515,"color":"rgba(0,0,0,0)"},{"offset":0.515,"color":"#00bdb4"},{"offset":0.531,"color":"#00bdb4"},{"offset":0.531,"color":"rgba(0,0,0,0)"},
{"offset":0.57,"color":"rgba(0,0,0,0)"},{"offset":0.57,"color":"#00bdb4"},{"offset":0.586,"color":"#00bdb4"},{"offset":0.586,"color":"rgba(0,0,0,0)"},
{"offset":0.625,"color":"rgba(0,0,0,0)"},{"offset":0.625,"color":"#00bdb4"},{"offset":0.641,"color":"#00bdb4"},{"offset":0.641,"color":"rgba(0,0,0,0)"},
{"offset":0.68,"color":"rgba(0,0,0,0)"},{"offset":0.68,"color":"#00bdb4"},{"offset":0.696,"color":"#00bdb4"},{"offset":0.696,"color":"rgba(0,0,0,0)"},
{"offset":0.735,"color":"rgba(0,0,0,0)"},{"offset":0.735,"color":"#00bdb4"},{"offset":0.751,"color":"#00bdb4"},{"offset":0.751,"color":"rgba(0,0,0,0)"},
{"offset":0.79,"color":"rgba(0,0,0,0)"},{"offset":0.79,"color":"#00bdb4"},{"offset":0.806,"color":"#00bdb4"},{"offset":0.806,"color":"rgba(0,0,0,0)"},
{"offset":0.845,"color":"rgba(0,0,0,0)"},{"offset":0.845,"color":"#00bdb4"},{"offset":0.861,"color":"#00bdb4"},{"offset":0.861,"color":"rgba(0,0,0,0)"},
{"offset":0.9,"color":"rgba(0,0,0,0)"},{"offset":0.9,"color":"#00bdb4"},{"offset":0.916,"color":"#00bdb4"},{"offset":0.916,"color":"rgba(0,0,0,0)"},
{"offset":0.955,"color":"rgba(0,0,0,0)"},{"offset":0.955,"color":"#00bdb4"},{"offset":0.971,"color":"#00bdb4"},{"offset":0.971,"color":"rgba(0,0,0,0)"}]}}
],
"value":{"gradient":"linear","x1":0,"y1":1,"x2":1.2,"y2":0.6007,"stops":[
{"offset":0.03,"color":"rgba(0,0,0,0)"},{"offset":0.03,"color":"#00bdb4"},{"offset":0.06,"color":"#00bdb4"},{"offset":0.06,"color":"rgba(0,0,0,0)"},
{"offset":0.13,"color":"rgba(0,0,0,0)"},{"offset":0.13,"color":"#00bdb4"},{"offset":0.16,"color":"#00bdb4"},{"offset":0.16,"color":"rgba(0,0,0,0)"},
{"offset":0.23,"color":"rgba(0,0,0,0)"},{"offset":0.23,"color":"#00bdb4"},{"offset":0.26,"color":"#00bdb4"},{"offset":0.26,"color":"rgba(0,0,0,0)"},
{"offset":0.33,"color":"rgba(0,0,0,0)"},{"offset":0.33,"color":"#00bdb4"},{"offset":0.36,"color":"#00bdb4"},{"offset":0.36,"color":"rgba(0,0,0,0)"},
{"offset":0.43,"color":"rgba(0,0,0,0)"},{"offset":0.43,"color":"#00bdb4"},{"offset":0.46,"color":"#00bdb4"},{"offset":0.46,"color":"rgba(0,0,0,0)"},
{"offset":0.53,"color":"rgba(0,0,0,0)"},{"offset":0.53,"color":"#00bdb4"},{"offset":0.56,"color":"#00bdb4"},{"offset":0.56,"color":"rgba(0,0,0,0)"},
{"offset":0.63,"color":"rgba(0,0,0,0)"},{"offset":0.63,"color":"#00bdb4"},{"offset":0.66,"color":"#00bdb4"},{"offset":0.66,"color":"rgba(0,0,0,0)"},
{"offset":0.73,"color":"rgba(0,0,0,0)"},{"offset":0.73,"color":"#00bdb4"},{"offset":0.76,"color":"#00bdb4"},{"offset":0.76,"color":"rgba(0,0,0,0)"},
{"offset":0.83,"color":"rgba(0,0,0,0)"},{"offset":0.83,"color":"#00bdb4"},{"offset":0.86,"color":"#00bdb4"},{"offset":0.86,"color":"rgba(0,0,0,0)"},
{"offset":0.93,"color":"rgba(0,0,0,0)"},{"offset":0.93,"color":"#00bdb4"},{"offset":0.96,"color":"#00bdb4"},{"offset":0.96,"color":"rgba(0,0,0,0)"}]}}}},
{"transform":[{"filter":"datum.component === 'Fugitive Emissions'"}],
"mark":{"type":"bar","strokeWidth":0},
"encoding":{
"y":{"field":"v1","type":"quantitative","title":"Emission Intensity (kg CO2-e/GJ)","scale":{"domain":[0,180],"nice":false}},
"y2":{"field":"v0"},
"color":{"field":"fuel","type":"nominal","scale":{"domain":["coal","gas"],"range":["#003865","#00bdb4"]},"legend":null},
"stroke":{"field":"component","type":"nominal","scale":{"domain":["Direct Emissions","Process Emissions","Fugitive Emissions","CertifHy Low Carbon Threshold"],"range":["#000000","#000000","#000000","#000000"]},
"legend":{"title":null,"orient":"none","legendX":508,"legendY":-16,"symbolSize":961,"symbolStrokeWidth":0,"labelFont":"Open Sans","labelFontSize":16,"labelFontWeight":"bold","labelColor":"#262626","labelOffset":9,"rowPadding":24,"labelLimit":400,
"symbolType":{"expr":"datum.value === 'Direct Emissions' ? 'M-1,-0.42H-0.92V0.42H-1Z M-0.616,-0.42H-0.536V0.42H-0.616Z M-0.232,-0.42H-0.152V0.42H-0.232Z M0.152,-0.42H0.232V0.42H0.152Z M0.536,-0.42H0.616V0.42H0.536Z M0.92,-0.42H1V0.42H0.92Z M-1,-0.4H1V-0.32H-1Z M-1,-0.04H1V0.04H-1Z M-1,0.32H1V0.4H-1Z' : 'M-1,-0.42H1V0.42H-1Z'"},
"symbolFillColor":{"expr":"datum.value === 'Process Emissions' ? {gradient: 'linear', x1: 0, y1: 1, x2: 1.2071, y2: 0.4938, stops: [{offset: 0.03, color: 'rgba(0,0,0,0)'}, {offset: 0.03, color: '#000'}, {offset: 0.075, color: '#000'}, {offset: 0.075, color: 'rgba(0,0,0,0)'}, {offset: 0.17, color: 'rgba(0,0,0,0)'}, {offset: 0.17, color: '#000'}, {offset: 0.215, color: '#000'}, {offset: 0.215, color: 'rgba(0,0,0,0)'}, {offset: 0.31, color: 'rgba(0,0,0,0)'}, {offset: 0.31, color: '#000'}, {offset: 0.355, color: '#000'}, {offset: 0.355, color: 'rgba(0,0,0,0)'}, {offset: 0.45, color: 'rgba(0,0,0,0)'}, {offset: 0.45, color: '#000'}, {offset: 0.495, color: '#000'}, {offset: 0.495, color: 'rgba(0,0,0,0)'}, {offset: 0.59, color: 'rgba(0,0,0,0)'}, {offset: 0.59, color: '#000'}, {offset: 0.635, color: '#000'}, {offset: 0.635, color: 'rgba(0,0,0,0)'}, {offset: 0.73, color: 'rgba(0,0,0,0)'}, {offset: 0.73, color: '#000'}, {offset: 0.775, color: '#000'}, {offset: 0.775, color: 'rgba(0,0,0,0)'}, {offset: 0.87, color: 'rgba(0,0,0,0)'}, {offset: 0.87, color: '#000'}, {offset: 0.915, color: '#000'}, {offset: 0.915, color: 'rgba(0,0,0,0)'}]} : '#000000'"}}}}}
]},
{"data":{"name":"threshold"},
"layer":[
{"mark":{"type":"line","color":"#000000","strokeWidth":1.3},
"encoding":{"y":{"field":"threshold","type":"quantitative","title":"Emission Intensity (kg CO2-e/GJ)","scale":{"domain":[0,180],"nice":false}},"detail":{"field":"grp"}}},
{"mark":{"type":"point","filled":true,"fill":"#ffffff","stroke":"#000000","strokeWidth":1.3,"size":70,"opacity":1},
"encoding":{"y":{"field":"threshold","type":"quantitative","title":"Emission Intensity (kg CO2-e/GJ)","scale":{"domain":[0,180],"nice":false}}}}
]}
]
}
